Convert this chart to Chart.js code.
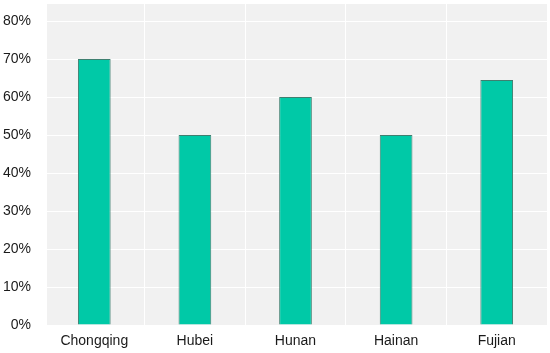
<!DOCTYPE html>
<html>
<head>
<meta charset="utf-8">
<script src="https://cdn.jsdelivr.net/npm/chart.js@4"></script>
<style>
html,body{margin:0;padding:0;background:#fff;}
#wrap{width:550px;height:353px;position:relative;}
</style>
</head>
<body>
<div id="wrap"><canvas id="c" width="550" height="353"></canvas></div>
<script>
const categories = ["Chongqing", "Hubei", "Hunan", "Hainan", "Fujian"];
const values = [70, 50, 60, 50, 64.5];
const yTicks = [0, 10, 20, 30, 40, 50, 60, 70, 80];

const bgPlugin = {
  id: 'bg',
  beforeDraw(chart) {
    const {ctx, chartArea: a} = chart;
    ctx.save();
    ctx.fillStyle = '#f1f1f1';
    ctx.fillRect(a.left + 3, a.top, a.right - a.left - 3, a.bottom - a.top);
    ctx.restore();
  }
};

new Chart(document.getElementById('c'), {
  type: 'bar',
  data: {
    labels: categories,
    datasets: [{
      data: values,
      backgroundColor: '#00c9a7',
      borderColor: '#3f7f70',
      borderWidth: 1,
      barPercentage: 0.325,
      categoryPercentage: 1
    }]
  },
  options: {
    responsive: false,
    animation: false,
    devicePixelRatio: 1,
    layout: {padding: {left: 3, right: 3, top: 4, bottom: 3}},
    plugins: {legend: {display: false}, tooltip: {enabled: false}},
    scales: {
      x: {
        grid: {color: '#ffffff', lineWidth: 1, drawTicks: false, tickLength: 0, offset: true},
        border: {display: false},
        ticks: {color: '#1a1a1a', font: {family: 'Liberation Sans, Arial', size: 14}, padding: 8},
        afterFit(s) { s.paddingLeft = 0; s.paddingRight = 0; s.height = 25; }
      },
      y: {
        min: 0, max: 84.5,
        afterBuildTicks(axis) { axis.ticks = yTicks.map(v => ({value: v})); },
        afterFit(s) { s.paddingTop = 0; s.paddingBottom = 0; s.width = 41; },
        grid: {color: '#ffffff', lineWidth: 1, drawTicks: false, tickLength: 0},
        border: {display: false},
        ticks: {color: '#1a1a1a', font: {family: 'Liberation Sans, Arial', size: 14}, padding: 13,
          callback: v => v + '%'}
      }
    }
  },
  plugins: [bgPlugin]
});
</script>
</body>
</html>
